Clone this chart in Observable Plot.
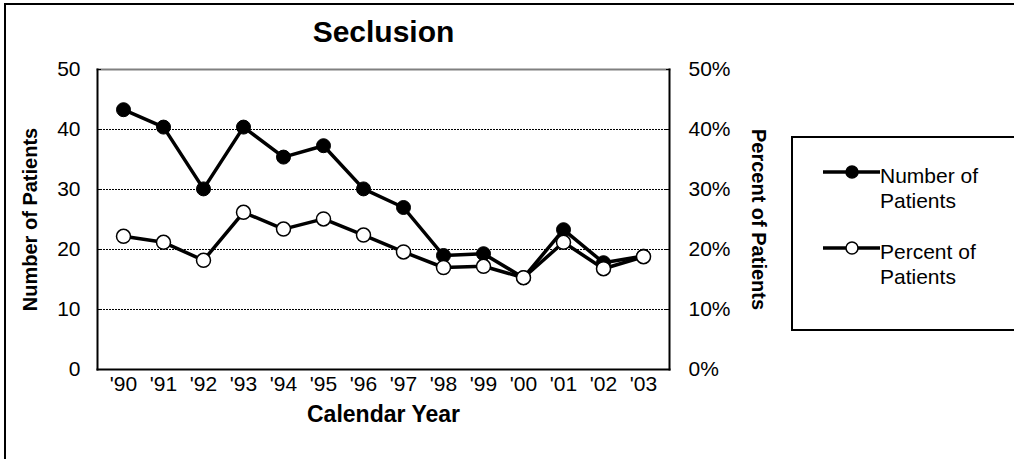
<!DOCTYPE html>
<html>
<head>
<meta charset="utf-8">
<script src="https://cdn.jsdelivr.net/npm/d3@7"></script>
<script src="https://cdn.jsdelivr.net/npm/@observablehq/plot@0.6"></script>
<style>
  html, body { margin: 0; padding: 0; background: #fff; }
  svg { display: block; }
</style>
</head>
<body>
<div id="chart"></div>
<script>
const years = ["'90","'91","'92","'93","'94","'95","'96","'97","'98","'99","'00","'01","'02","'03"];
const numberOfPatients = [43.3, 40.4, 30.1, 40.4, 35.4, 37.3, 30.1, 27.0, 19.0, 19.3, 15.3, 23.3, 17.8, 18.9];
const percentOfPatients = [22.2, 21.2, 18.2, 26.2, 23.4, 25.1, 22.4, 19.6, 17.0, 17.2, 15.3, 21.2, 16.8, 18.8];
const yTicks = [0, 10, 20, 30, 40, 50];
const gridLines = [10, 20, 30, 40];
const seriesNames = ["Number of Patients", "Percent of Patients"];

const numberData = years.map((y, i) => ({year: y, value: numberOfPatients[i]}));
const percentData = years.map((y, i) => ({year: y, value: percentOfPatients[i]}));

const FONT = "'Liberation Sans', Arial, sans-serif";

const chart = Plot.plot({
  width: 1014,
  height: 459,
  marginLeft: 97,
  marginRight: 345,
  marginTop: 69,
  marginBottom: 90,
  style: {fontFamily: FONT, color: "#000", background: "#fff", overflow: "visible"},
  x: {type: "point", domain: years, padding: 0.5},
  y: {domain: [0, 50]},
  marks: [
    Plot.ruleY(gridLines, {stroke: "#000", strokeWidth: 1, strokeDasharray: "2,1"}),
    Plot.frame({anchor: "top", stroke: "#808080", strokeWidth: 2}),
    Plot.frame({anchor: "left", stroke: "#000", strokeWidth: 2}),
    Plot.frame({anchor: "right", stroke: "#000", strokeWidth: 2}),
    Plot.frame({anchor: "bottom", stroke: "#000", strokeWidth: 2}),
    Plot.axisY({anchor: "left", ticks: yTicks, tickSize: 0, tickPadding: 17, fontSize: 21, label: null}),
    Plot.axisY({anchor: "left", ticks: yTicks, tickSize: 4, dx: 4, text: null, label: null}),
    Plot.axisY({anchor: "right", ticks: yTicks, tickSize: 0, tickPadding: 19, fontSize: 21, label: null, tickFormat: d => d + "%"}),
    Plot.axisY({anchor: "right", ticks: yTicks, tickSize: 4, dx: -4, text: null, label: null}),
    Plot.axisX({anchor: "bottom", tickSize: 0, tickPadding: 7, fontSize: 21, label: null}),
    Plot.line(numberData, {x: "year", y: "value", stroke: "#000", strokeWidth: 3.5}),
    Plot.dot(numberData, {x: "year", y: "value", r: 7, fill: "#000", stroke: "#000", strokeWidth: 1}),
    Plot.line(percentData, {x: "year", y: "value", stroke: "#000", strokeWidth: 3.5}),
    Plot.dot(percentData, {x: "year", y: "value", r: 7, fill: "#fff", stroke: "#000", strokeWidth: 1.5}),
    Plot.text(["Seclusion"], {frameAnchor: "top", dy: -37, fontSize: 30, fontWeight: "bold", lineAnchor: "middle", textAnchor: "middle"}),
    Plot.text(["Calendar Year"], {frameAnchor: "bottom", dy: 45, fontSize: 23, fontWeight: "bold", lineAnchor: "middle", textAnchor: "middle"}),
    Plot.text([seriesNames[0]], {frameAnchor: "left", dx: -67, rotate: -90, fontSize: 20, fontWeight: "bold", lineAnchor: "middle", textAnchor: "middle"}),
    Plot.text([seriesNames[1]], {frameAnchor: "right", dx: 89, rotate: 90, fontSize: 20, fontWeight: "bold", lineAnchor: "middle", textAnchor: "middle"})
  ]
});

document.getElementById("chart").appendChild(chart);

// outer chart border and legend
const svg = d3.select(chart);
svg.append("rect").attr("x", 5).attr("y", 4).attr("width", 1040).attr("height", 480)
  .attr("fill", "none").attr("stroke", "#000").attr("stroke-width", 2);

const legend = svg.append("g");
legend.append("rect").attr("x", 792).attr("y", 137).attr("width", 300).attr("height", 193)
  .attr("fill", "#fff").attr("stroke", "#000").attr("stroke-width", 2);

const legendItems = [
  {lines: ["Number of", "Patients"], fill: "#000", y: 172},
  {lines: ["Percent of", "Patients"], fill: "#fff", y: 248}
];
legendItems.forEach(item => {
  legend.append("line").attr("x1", 823).attr("x2", 880).attr("y1", item.y).attr("y2", item.y)
    .attr("stroke", "#000").attr("stroke-width", 3.5);
  legend.append("circle").attr("cx", 852).attr("cy", item.y).attr("r", 6)
    .attr("fill", item.fill).attr("stroke", "#000").attr("stroke-width", 1.5);
  const t = legend.append("text").attr("x", 880).attr("y", item.y + 11)
    .attr("font-family", FONT).attr("font-size", 21).attr("fill", "#000")
    .attr("text-anchor", "start");
  item.lines.forEach((l, j) => {
    t.append("tspan").attr("x", 880).attr("dy", j === 0 ? 0 : 25).text(l);
  });
});
</script>
</body>
</html>
